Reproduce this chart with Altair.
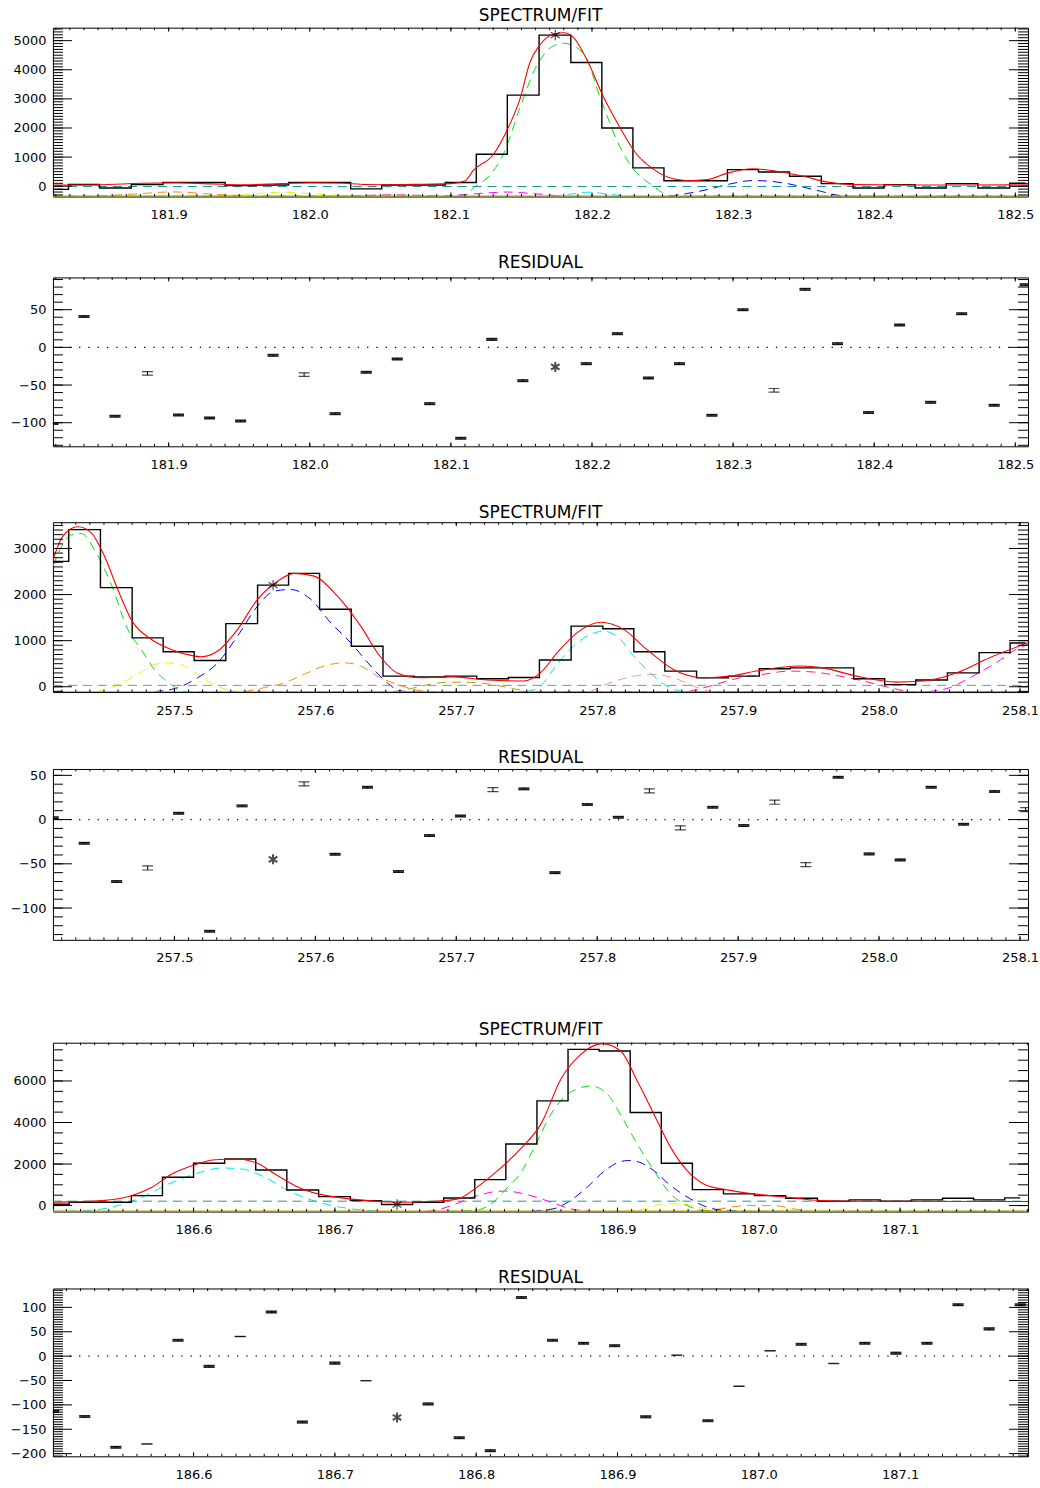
import altair as alt
import pandas as pd
import numpy as np

FONT = "DejaVu Sans"
W = 976

# ---------------- Panel 1: SPECTRUM/FIT ----------------
s1_xdom = [181.818, 182.509]
s1_ydom = [-354, 5445]
s1_bins = [181.818, 181.840, 181.862, 181.885, 181.907, 181.929, 181.951, 181.974, 181.996, 182.018,
           182.040, 182.062, 182.085, 182.107, 182.129, 182.151, 182.174, 182.196, 182.218, 182.240,
           182.262, 182.285, 182.307, 182.329, 182.351, 182.374, 182.396, 182.418, 182.440, 182.462,
           182.485, 182.507]
s1_counts = [-110, 60, -60, 60, 130, 130, 20, 40, 130, 130, -90, 40, 40, 130, 1100, 3130, 5190, 4250,
             2000, 630, 190, 190, 570, 490, 340, 90, -60, 55, -60, 90, -60, 100]
s1_fit_x = [181.819, 181.850, 181.880, 181.905, 181.930, 181.955, 181.980, 182.000, 182.020, 182.040,
            182.060, 182.080, 182.100, 182.110, 182.116, 182.130, 182.141, 182.149, 182.156, 182.163,
            182.173, 182.180, 182.187, 182.197, 182.208, 182.220, 182.231, 182.244, 182.255, 182.268,
            182.282, 182.296, 182.314, 182.331, 182.350, 182.367, 182.385, 182.420, 182.509]
s1_fit_y = [40, 45, 100, 120, 80, 50, 90, 120, 110, 60, 50, 70, 90, 180, 550, 1080, 2050, 3000, 4250,
            4850, 5230, 5270, 5100, 4280, 3080, 2000, 1140, 570, 290, 190, 230, 450, 600, 515, 340,
            140, 55, 40, 45]
s1_green_x = [181.818, 182.100, 182.111, 182.116, 182.128, 182.137, 182.149, 182.161, 182.172, 182.180,
              182.194, 182.206, 182.218, 182.227, 182.2435, 182.253, 182.262, 182.509]
s1_green_y = [-340, -340, -290, -60, 400, 1080, 2700, 4160, 4800, 4910, 4560, 3020, 1540, 740, 0, -290,
              -340, -340]
s1_blue_x = [182.255, 182.2626, 182.2816, 182.2957, 182.3144, 182.3359, 182.3499, 182.3619, 182.3738, 182.382]
s1_blue_y = [-340, -288, -116, 55, 195, 113, -34, -171, -308, -340]
s1_cyan_x = [182.172, 182.185, 182.198, 182.211, 182.225]
s1_cyan_y = [-340, -270, -205, -270, -340]
s1_mag_x = [182.095, 182.117, 182.140, 182.160, 182.178]
s1_mag_y = [-340, -260, -200, -260, -340]
s1_pink_x = [182.030, 182.060, 182.090]
s1_pink_y = [-340, -295, -340]
s1_orange_x = [181.850, 181.875, 181.903, 181.930, 181.955]
s1_orange_y = [-340, -270, -195, -270, -340]
s1_yellow_x = [181.930, 181.955, 181.981, 182.007, 182.032]
s1_yellow_y = [-340, -275, -205, -275, -340]
s1_bg = -10
s1_base = -340
s1_star = [182.174, 5190]

# ---------------- Panel 2: RESIDUAL ----------------
r1_ydom = [-131.3, 92.8]
r1_vals = [-101, 41, -91.5, -34.5, -89.7, -93.7, -97.7, -10.6, -36.2, -88, -33, -15.5, -74.7, -120.7,
           10.6, -44.2, -26, -21.6, 18.2, -40.6, -21.6, -90.2, 50, -57, 77, 4.9, -86.6, 29.7, -73,
           44.7, -76.9, 83]
r1_err = [1.2, 1.2, 1.2, 2.4, 1.2, 1.2, 1.2, 1.2, 2.4, 1.2, 1.2, 1.2, 1.2, 1.2, 1.2, 1.2, 1.2, 1.2,
          1.2, 1.2, 1.2, 1.2, 1.2, 2.4, 1.2, 1.2, 1.2, 1.2, 1.2, 1.2, 1.2, 1.2]
r1_star_idx = 16

# ---------------- Panel 3: SPECTRUM/FIT ----------------
s2_xdom = [257.4138, 258.1057]
s2_ydom = [-115, 3570]
s2_bins = [257.414, 257.436, 257.459, 257.481, 257.503, 257.525, 257.548, 257.570, 257.592, 257.614,
           257.637, 257.659, 257.681, 257.703, 257.726, 257.748, 257.770, 257.793, 257.815, 257.837,
           257.859, 257.882, 257.904, 257.926, 257.948, 257.971, 257.993, 258.015, 258.037, 258.060,
           258.082, 258.104]
s2_counts = [2720, 3410, 2150, 1060, 760, 570, 1370, 2205, 2460, 1680, 880, 230, 210, 230, 175, 200,
             580, 1315, 1260, 760, 340, 195, 230, 390, 410, 410, 175, 45, 145, 300, 740, 950]
s2_fit_x = [257.4138, 257.4209, 257.4315, 257.4410, 257.4504, 257.4598, 257.4693, 257.4835, 257.4977,
            257.5118, 257.5189, 257.5307, 257.5448, 257.5590, 257.5732, 257.5850, 257.5992, 257.6157,
            257.6322, 257.6464, 257.6581, 257.6747, 257.6983, 257.7219, 257.7479, 257.7597, 257.7715,
            257.7856, 257.8022, 257.8187, 257.8352, 257.8541, 257.8754, 257.8943, 257.9131, 257.9438,
            257.9603, 257.9839, 258.0123, 258.0312, 258.0548, 258.0784, 258.1057]
s2_fit_y = [2760, 3270, 3470, 3340, 2830, 2110, 1460, 1030, 810, 680, 650, 775, 1245, 1895, 2290, 2460,
            2400, 1965, 1315, 640, 300, 195, 215, 145, 125, 300, 735, 1170, 1400, 1245, 810, 375, 195,
            230, 340, 450, 410, 230, 100, 125, 300, 630, 955]
s2_green_x = [257.4138, 257.4268, 257.4339, 257.4445, 257.4552, 257.4669, 257.4764, 257.4858, 257.4977,
              257.5047, 257.5150, 258.1057]
s2_green_y = [2620, 3300, 3325, 2900, 2220, 1245, 810, 375, 50, -95, -108, -108]
s2_yellow_x = [257.4450, 257.4575, 257.4717, 257.4858, 257.4953, 257.5071, 257.5212, 257.5354, 257.5450]
s2_yellow_y = [-105, 15, 230, 485, 520, 450, 160, -45, -105]
s2_blue_x = [257.4858, 257.5023, 257.5165, 257.5307, 257.5448, 257.5590, 257.5708, 257.5826, 257.5968,
             257.6110, 257.6251, 257.6393, 257.6511, 257.6606, 257.6700, 258.1057]
s2_blue_y = [-105, -20, 195, 520, 1100, 1750, 2075, 2110, 1895, 1385, 955, 450, 85, -95, -108, -108]
s2_orange_x = [257.5500, 257.5637, 257.5779, 257.5921, 257.6062, 257.6204, 257.6322, 257.6440, 257.6581,
               257.6700, 257.6800]
s2_orange_y = [-105, -20, 85, 270, 450, 520, 450, 230, 50, -60, -105]
s2_olive_x = [257.655, 257.668, 257.682, 257.696, 257.710, 257.725, 257.740, 257.752]
s2_olive_y = [-105, -40, 60, 100, 95, 50, -40, -105]
s2_salmon_x = [257.795, 257.8067, 257.8210, 257.8376, 257.8541, 257.8683, 257.880]
s2_salmon_y = [-105, 58, 195, 270, 195, 15, -105]
s2_pink_x = [257.865, 257.8801, 257.9013, 257.9178, 257.9367, 257.9533, 257.9722, 257.9887, 258.0076, 258.020]
s2_pink_y = [-105, 15, 195, 270, 340, 320, 230, 125, -20, -105]
s2_mag_x = [258.035, 258.0501, 258.0666, 258.0831, 258.0972, 258.1057]
s2_mag_y = [-105, -20, 230, 520, 810, 920]
s2_cyan_x = [257.7500, 257.7597, 257.7715, 257.7833, 257.7951, 257.8045, 257.8164, 257.8258, 257.8376,
             257.8494, 257.8600, 257.8700]
s2_cyan_y = [-105, 15, 485, 885, 1135, 1205, 1030, 665, 300, 15, -95, -108]
s2_bg = 30
s2_base = -108
s2_star = [257.570, 2205]

# ---------------- Panel 4: RESIDUAL ----------------
r2_ydom = [-135.9, 57.2]
r2_vals = [2, -26.8, -70.1, -54.7, 7.2, -126.3, 15.5, -44.9, 40.3, -39.2, 36.6, -58.8, -18.1, 4.1,
           33.9, 34.7, -60, 17, 2.6, 32.4, -9.4, 13.9, -6.8, 19.6, -50.9, 47.9, -38.8, -45.6, 36.6,
           -5.3, 31.7, 11.3]
r2_err = [1.0, 1.0, 1.0, 2.3, 1.0, 1.0, 1.0, 1.0, 2.3, 1.0, 1.0, 1.0, 1.0, 1.0, 2.3, 1.0, 1.0, 1.0,
          1.0, 2.3, 2.3, 1.0, 1.0, 2.3, 2.3, 1.0, 1.0, 1.0, 1.0, 1.0, 1.0, 2.3]
r2_star_idx = 7

# ---------------- Panel 5: SPECTRUM/FIT ----------------
s3_xdom = [186.5005, 187.1905]
s3_ydom = [-288, 7843]
s3_bins = [186.501, 186.523, 186.545, 186.567, 186.589, 186.611, 186.633, 186.655, 186.677, 186.700,
           186.722, 186.744, 186.766, 186.788, 186.810, 186.832, 186.854, 186.876, 186.898, 186.920,
           186.942, 186.964, 186.986, 187.008, 187.030, 187.053, 187.075, 187.097, 187.119, 187.141,
           187.163, 187.185]
s3_counts = [60, 163, 163, 480, 1363, 2035, 2240, 1712, 752, 432, 240, 48, 163, 368, 1250, 2963, 5041,
             7523, 7442, 4484, 2035, 768, 562, 480, 355, 211, 274, 211, 274, 355, 274, 370]
s3_fit_x = [186.5005, 186.5353, 186.5565, 186.5706, 186.5847, 186.5988, 186.6152, 186.6294, 186.6435,
            186.6576, 186.6717, 186.6882, 186.7047, 186.7235, 186.7470, 186.7705, 186.7870, 186.8011,
            186.8152, 186.8317, 186.8458, 186.8599, 186.8740, 186.8893, 186.9023, 186.9140, 186.9258,
            186.9376, 186.9493, 186.9610, 186.9776, 186.9963, 187.0199, 187.0434, 187.0669, 187.1905]
s3_fit_y = [163, 240, 480, 883, 1522, 1920, 2208, 2240, 2083, 1522, 960, 562, 370, 240, 163, 211, 322,
            912, 1680, 2760, 3922, 6083, 7283, 7800, 7442, 6001, 4402, 2803, 1680, 1042, 754, 562, 403,
            240, 211, 195]
s3_green_x = [186.7800, 186.7987, 186.8105, 186.8223, 186.8317, 186.8411, 186.8529, 186.8646, 186.8811,
              186.8929, 186.9046, 186.9140, 186.9258, 186.9376, 186.9493, 186.9610, 186.9700, 187.1905]
s3_green_y = [-272, -240, 82, 883, 1600, 2800, 4400, 5360, 5760, 5360, 4080, 2960, 1680, 560, 0, -240,
              -272, -272]
s3_blue_x = [186.840, 186.855, 186.8646, 186.8788, 186.8905, 186.9023, 186.9080, 186.9140, 186.9258,
             186.9376, 186.9516, 186.9634, 186.9776, 186.9900]
s3_blue_y = [-265, -150, 150, 900, 1650, 2120, 2170, 2120, 1680, 960, 322, -77, -240, -270]
s3_cyan_x = [186.5005, 186.5235, 186.5423, 186.5635, 186.5824, 186.6011, 186.6200, 186.6341, 186.6505,
             186.6670, 186.6882, 186.7117, 186.7300]
s3_cyan_y = [-272, -240, -77, 403, 1042, 1522, 1810, 1762, 1363, 720, 163, -158, -270]
s3_mag_x = [186.765, 186.7705, 186.7823, 186.8011, 186.8105, 186.8200, 186.8387, 186.8529, 186.8670, 186.880]
s3_mag_y = [-272, -240, 0, 480, 643, 700, 480, 163, -158, -270]
s3_yellow_x = [186.905, 186.920, 186.933, 186.942, 186.953, 186.9634, 186.975]
s3_yellow_y = [-272, -150, 80, 85, 0, -158, -272]
s3_orange_x = [186.960, 186.9728, 186.9917, 187.0104, 187.0246, 187.035]
s3_orange_y = [-272, -158, 0, 0, -158, -272]
s3_bg = 211
s3_base = -272
s3_star = [186.744, 48]

# ---------------- Panel 6: RESIDUAL ----------------
r3_ydom = [-205.5, 138.8]
r3_vals = [-113.5, -123.7, -187, -180, 32.7, -21, 40.2, 90.5, -135.3, -14.3, -50.3, -125.8, -98,
           -167.3, -193.9, 120.4, 32.7, 26.5, 21.2, -124.5, 2, -132.7, -61.8, 11, 24.5, -14.9, 26.5,
           6.1, 26.5, 105.5, 55.9, 105.5]
r3_err = [1.9, 1.9, 1.9, 0.3, 1.9, 1.9, 0.3, 1.9, 1.9, 1.9, 0.3, 1.9, 1.9, 1.9, 1.9, 1.9, 1.9, 1.9,
          1.9, 1.9, 0.3, 1.9, 0.3, 0.3, 1.9, 0.3, 1.9, 1.9, 1.9, 1.9, 1.9, 1.9]
r3_star_idx = 11

# tick label values
p1_xmaj = [181.9, 182.0, 182.1, 182.2, 182.3, 182.4, 182.5]
p2_xmaj = [257.5, 257.6, 257.7, 257.8, 257.9, 258.0, 258.1]
p3_xmaj = [186.6, 186.7, 186.8, 186.9, 187.0, 187.1]
s1_ymaj = [0, 1000, 2000, 3000, 4000, 5000]
s2_ymaj = [0, 1000, 2000, 3000]
s3_ymaj = [0, 2000, 4000, 6000]
r1_ymaj = [-100, -50, 0, 50]
r2_ymaj = [-100, -50, 0, 50]
r3_ymaj = [-200, -150, -100, -50, 0, 50, 100]

COLORS = {
    "red": "#ff0000", "green": "#00e600", "blue": "#0000ff", "cyan": "#00e8e8",
    "magenta": "#ff00ff", "pink": "#ff1a8c", "yellow": "#f0f000", "orange": "#ff8c00",
    "teal": "#1a9a9a", "olive": "#b4a000", "gray": "#8c8c8c", "salmon": "#ff9090",
}
DASH = [9, 6]
STAR = "M0,-1L0,1M-0.85,-0.55L0.85,0.55M-0.85,0.55L0.85,-0.55"


def minor(lo, hi, step, nd):
    return [round(v, nd) for v in np.arange(lo, hi + step / 2, step)]


def make_enc(xdom, ydom, xmaj, ymaj):
    X = alt.X("x:Q", scale=alt.Scale(domain=xdom, nice=False, zero=False),
              axis=alt.Axis(values=xmaj, format=".1f", title=None, ticks=False, domain=False,
                            grid=False, labelPadding=12, labelFlush=False, labelOverlap=False))
    Y = alt.Y("y:Q", scale=alt.Scale(domain=ydom, nice=False, zero=False),
              axis=alt.Axis(values=ymaj, format="d", title=None, ticks=False, domain=False,
                            grid=False, labelPadding=7, labelFlush=False, labelOverlap=False,
                            minExtent=47, maxExtent=47))
    return X, Y


def tick_layers(X, Y, xmaj, xmin, ymaj, ymin, H):
    L = []
    for vals, ln in ((ymaj, 19), (ymin, 10)):
        d = pd.DataFrame({"y": vals})
        L.append(alt.Chart(d).mark_rule(color="black", strokeWidth=1).encode(
            y=Y, x=alt.value(0), x2=alt.value(ln)))
        L.append(alt.Chart(d).mark_rule(color="black", strokeWidth=1).encode(
            y=Y, x=alt.value(W), x2=alt.value(W - ln)))
    for vals, ln in ((xmaj, 4), (xmin, 2.5)):
        d = pd.DataFrame({"x": vals})
        L.append(alt.Chart(d).mark_rule(color="black", strokeWidth=1).encode(
            x=X, y=alt.value(H), y2=alt.value(H - ln)))
        L.append(alt.Chart(d).mark_rule(color="black", strokeWidth=1).encode(
            x=X, y=alt.value(0), y2=alt.value(ln)))
    return L


def line(xs, ys, X, Y, color, dash=None, width=1.0, interp="monotone"):
    d = pd.DataFrame({"x": xs, "y": ys})
    kw = dict(color=color, strokeWidth=width, interpolate=interp, clip=True)
    if dash:
        kw["strokeDash"] = dash
    return alt.Chart(d).mark_line(**kw).encode(x=X, y=Y)


def title(txt, off):
    return alt.TitleParams(txt, font=FONT, fontSize=17, fontWeight="normal", color="black",
                           anchor="middle", baseline="alphabetic", offset=off)


def spectrum(xdom, ydom, xmaj, xmin, ymaj, ymin, bins, counts, fx, fy, comps, bg, bgcol, base,
             star, H, toff):
    X, Y = make_enc(xdom, ydom, xmaj, ymaj)
    layers = []
    for col, xs, ys in comps:
        layers.append(line(xs, ys, X, Y, COLORS[col], DASH))
    layers.append(line([xdom[0], xdom[1]], [bg, bg], X, Y, COLORS[bgcol], DASH, interp="linear"))
    layers.append(line([xdom[0], xdom[1]], [base, base], X, Y, COLORS["olive"], None, 1.2, "linear"))
    layers.append(line(bins, counts, X, Y, "black", None, 1.4, "step"))
    layers.append(line(fx, fy, X, Y, COLORS["red"], None, 1.1, "monotone"))
    sd = pd.DataFrame({"x": [star[0]], "y": [star[1]]})
    layers.append(alt.Chart(sd).mark_point(shape=STAR, size=110, filled=False, color="black",
                                           strokeWidth=1.2).encode(x=X, y=Y))
    layers += tick_layers(X, Y, xmaj, xmin, ymaj, ymin, H)
    return alt.layer(*layers).properties(width=W, height=H, title=title("SPECTRUM/FIT", toff))


def residual(xdom, ydom, xmaj, xmin, ymaj, ymin, bins, vals, errs, star_idx, H, toff):
    X, Y = make_enc(xdom, ydom, xmaj, ymaj)
    layers = []
    z = pd.DataFrame({"y": [0]})
    layers.append(alt.Chart(z).mark_rule(color="black", strokeWidth=1.2, strokeDash=[1.3, 8]).encode(y=Y))
    keep = [i for i in range(len(bins)) if i != star_idx]
    xs = [bins[i] for i in keep]
    vs = [vals[i] for i in keep]
    es = [errs[i] for i in keep]
    lo = pd.DataFrame({"x": xs, "y": [v - e for v, e in zip(vs, es)]})
    hi = pd.DataFrame({"x": xs, "y": [v + e for v, e in zip(vs, es)]})
    bar = pd.DataFrame({"x": xs, "y": [v - e for v, e in zip(vs, es)],
                        "y2": [v + e for v, e in zip(vs, es)]})
    solid = pd.DataFrame({"x": [x for x, e in zip(xs, es) if 0.8 <= e <= 2.0],
                          "y": [v for v, e in zip(vs, es) if 0.8 <= e <= 2.0]})
    layers.append(alt.Chart(bar).mark_rule(color="black", strokeWidth=1, clip=True).encode(
        x=X, y=Y, y2="y2:Q"))
    layers.append(alt.Chart(solid).mark_tick(color="black", orient="horizontal", size=11,
                                             thickness=2.6, clip=True).encode(x=X, y=Y))
    for d in (lo, hi):
        layers.append(alt.Chart(d).mark_tick(color="black", orient="horizontal", size=11,
                                             thickness=1.2, clip=True).encode(x=X, y=Y))
    sd = pd.DataFrame({"x": [bins[star_idx]], "y": [vals[star_idx]]})
    layers.append(alt.Chart(sd).mark_point(shape=STAR, size=100, filled=False, color="black",
                                           strokeWidth=2).encode(x=X, y=Y))
    layers += tick_layers(X, Y, xmaj, xmin, ymaj, ymin, H)
    return alt.layer(*layers).properties(width=W, height=H, title=title("RESIDUAL", toff))


p1 = spectrum(s1_xdom, s1_ydom, p1_xmaj, minor(181.82, 182.50, 0.01, 2), s1_ymaj,
              minor(-300, 5400, 100, 0), s1_bins, s1_counts, s1_fit_x, s1_fit_y,
              [("orange", s1_orange_x, s1_orange_y), ("yellow", s1_yellow_x, s1_yellow_y),
               ("pink", s1_pink_x, s1_pink_y), ("magenta", s1_mag_x, s1_mag_y),
               ("cyan", s1_cyan_x, s1_cyan_y), ("blue", s1_blue_x, s1_blue_y),
               ("green", s1_green_x, s1_green_y)],
              s1_bg, "teal", s1_base, s1_star, 169, -11)
p2 = residual(s1_xdom, r1_ydom, p1_xmaj, minor(181.82, 182.50, 0.01, 2), r1_ymaj,
              minor(-130, 90, 10, 0), s1_bins, r1_vals, r1_err, r1_star_idx, 169, -8)
p3 = spectrum(s2_xdom, s2_ydom, p2_xmaj, minor(257.42, 258.10, 0.01, 2), s2_ymaj,
              minor(-100, 3500, 100, 0), s2_bins, s2_counts, s2_fit_x, s2_fit_y,
              [("yellow", s2_yellow_x, s2_yellow_y), ("orange", s2_orange_x, s2_orange_y),
               ("olive", s2_olive_x, s2_olive_y), ("salmon", s2_salmon_x, s2_salmon_y),
               ("pink", s2_pink_x, s2_pink_y), ("magenta", s2_mag_x, s2_mag_y),
               ("cyan", s2_cyan_x, s2_cyan_y), ("blue", s2_blue_x, s2_blue_y),
               ("green", s2_green_x, s2_green_y)],
              s2_bg, "gray", s2_base, s2_star, 170, -13)
p4 = residual(s2_xdom, r2_ydom, p2_xmaj, minor(257.42, 258.10, 0.01, 2), r2_ymaj,
              minor(-130, 50, 10, 0), s2_bins, r2_vals, r2_err, r2_star_idx, 171, -12)
p5 = spectrum(s3_xdom, s3_ydom, p3_xmaj, minor(186.51, 187.19, 0.01, 2), s3_ymaj,
              minor(0, 7500, 500, 0), s3_bins, s3_counts, s3_fit_x, s3_fit_y,
              [("cyan", s3_cyan_x, s3_cyan_y), ("magenta", s3_mag_x, s3_mag_y),
               ("yellow", s3_yellow_x, s3_yellow_y), ("orange", s3_orange_x, s3_orange_y),
               ("blue", s3_blue_x, s3_blue_y), ("green", s3_green_x, s3_green_y)],
              s3_bg, "teal", s3_base, s3_star, 169, -10)
p6 = residual(s3_xdom, r3_ydom, p3_xmaj, minor(186.51, 187.19, 0.01, 2), r3_ymaj,
              minor(-205, 135, 5, 0), s3_bins, r3_vals, r3_err, r3_star_idx, 168, -12)

top = alt.vconcat(p1, p2, p3, p4, spacing=31)
bottom = alt.vconcat(p5, p6, spacing=31)
chart = alt.vconcat(top, bottom, spacing=55).properties(
    padding={"left": 5, "top": 6, "right": 0, "bottom": 2}, background="white"
).configure_view(stroke="black", strokeWidth=1).configure_axis(
    labelFont=FONT, labelFontSize=13, labelColor="black"
)

chart.save("out.html", embed_options={"renderer": "svg", "actions": False})
